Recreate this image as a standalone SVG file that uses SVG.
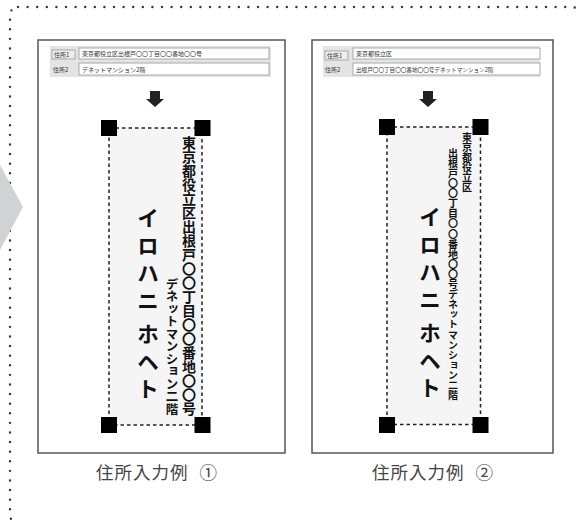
<svg xmlns="http://www.w3.org/2000/svg" width="576" height="521" viewBox="0 0 576 521">
<style>
.frame{fill:none;stroke:#333;stroke-width:2.4;stroke-linecap:round;stroke-dasharray:0 9.6}
.panel{fill:#fff;stroke:#555;stroke-width:1.5}
.band{fill:#e4e4e4}
.field{fill:#fff;stroke:#a8a8a8;stroke-width:1}
.btn{fill:#eee;stroke:#999;stroke-width:0.8}
.ftxt{font-family:"Noto Sans CJK JP","Noto Sans",sans-serif;font-size:6px;fill:#333}
.tag{fill:#f5f5f5;stroke:#222;stroke-width:1.5;stroke-dasharray:3.5 3}
.sq{fill:#000}
.vt{font-family:"Noto Sans CJK JP",sans-serif;writing-mode:vertical-rl;fill:#111;font-weight:bold}
.big{font-size:22px;letter-spacing:5.5px}
.cap{font-family:"Noto Sans CJK JP","Noto Sans",sans-serif;font-size:17.5px;fill:#444;text-anchor:middle;letter-spacing:1px}
.arrow{fill:#222}
</style>

<rect class="frame" x="10" y="7" width="570" height="516" rx="8"/>
<polygon points="0,165 23,207 0,250" fill="#d1d2d4"/>

<g id="example1">
  <rect class="panel" x="38" y="40" width="247" height="413"/>
  <rect class="band" x="50" y="46" width="221" height="31"/>
  <rect class="btn" x="52" y="50" width="23" height="9"/>
  <text class="ftxt" x="54" y="57">住所1</text>
  <rect class="field" x="79" y="48" width="190" height="11"/>
  <text class="ftxt" x="82" y="56">東京都役立区出根戸〇〇丁目〇〇番地〇〇号</text>
  <text class="ftxt" x="53" y="71.5">住所2</text>
  <rect class="field" x="79" y="63" width="190" height="12"/>
  <text class="ftxt" x="82" y="71.5">デネットマンション2階</text>

  <rect class="tag" x="109" y="128" width="93" height="297"/>
  <rect class="sq" x="101" y="120" width="16" height="16"/>
  <rect class="sq" x="194.5" y="120" width="16" height="16"/>
  <rect class="sq" x="101" y="417" width="16" height="16"/>
  <rect class="sq" x="194.5" y="417" width="16" height="16"/>
  <text class="vt big" x="148" y="207">イロハニ<tspan style="letter-spacing:1px"> </tspan>ホヘト</text>
  <text class="vt" x="189" y="136" style="font-size:14px">東京都役立区出根戸〇〇丁目〇〇番地〇〇号</text>
  <text class="vt" x="172" y="415" style="font-size:12.5px;text-anchor:end">デネットマンション二階</text>
  <text class="cap" x="157" y="479">住所入力例<tspan style="letter-spacing:7px"> </tspan>①</text>
</g>

<g id="example2">
  <rect class="panel" x="312" y="40" width="241" height="413"/>
  <rect class="band" x="323" y="46" width="217" height="31"/>
  <rect class="btn" x="325" y="51" width="23" height="9"/>
  <text class="ftxt" x="327" y="58">住所1</text>
  <rect class="field" x="353" y="48" width="187" height="11"/>
  <text class="ftxt" x="356" y="56">東京都役立区</text>
  <text class="ftxt" x="325" y="71.5">住所2</text>
  <rect class="field" x="353" y="63" width="187" height="12"/>
  <text class="ftxt" x="356" y="71.5" style="font-size:5.6px">出根戸〇〇丁目〇〇番地〇〇号デネットマンション2階</text>

  <rect class="tag" x="387" y="127" width="93.5" height="297.5"/>
  <rect class="sq" x="379" y="119" width="16" height="16"/>
  <rect class="sq" x="472.5" y="119" width="16" height="16"/>
  <rect class="sq" x="379" y="417" width="16" height="16"/>
  <rect class="sq" x="472.5" y="417" width="16" height="16"/>
  <text class="vt big" x="430" y="206">イロハニ<tspan style="letter-spacing:1px"> </tspan>ホヘト</text>
  <text class="vt" x="467" y="132" style="font-size:10px">東京都役立区</text>
  <text class="vt" x="453" y="148" style="font-size:10px;letter-spacing:0.1px">出根戸〇〇丁目〇〇番地〇〇号デネットマンション二階</text>
  <text class="cap" x="433" y="479">住所入力例<tspan style="letter-spacing:7px"> </tspan>②</text>
</g>

<g id="connectors">
  <path class="arrow" d="M150,91 H160 V99 H164 L155,107 L146,99 H150 Z"/>
  <path class="arrow" d="M423,91 H433 V99 H437 L428,107 L419,99 H423 Z"/>
</g>
</svg>
